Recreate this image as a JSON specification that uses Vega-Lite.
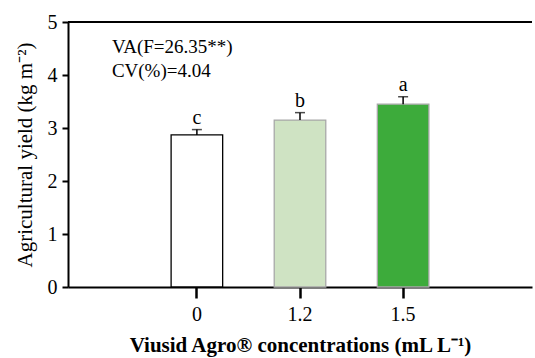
{
  "$schema": "https://vega.github.io/schema/vega-lite/v6.json",
  "width": 464,
  "height": 265,
  "autosize": "none",
  "padding": {"left": 68, "top": 22, "right": 3, "bottom": 71},
  "background": "white",
  "config": {
    "view": {"stroke": null},
    "font": "Liberation Serif",
    "text": {"font": "Liberation Serif"},
    "axis": {"labelFont": "Liberation Serif", "titleFont": "Liberation Serif", "domainColor": "black", "tickColor": "black", "labelColor": "black", "titleColor": "black"}
  },
  "datasets": {
    "bars": [
      {"conc": "0", "yield": 2.87, "se": 0.1, "letter": "c"},
      {"conc": "1.2", "yield": 3.15, "se": 0.14, "letter": "b"},
      {"conc": "1.5", "yield": 3.45, "se": 0.14, "letter": "a"}
    ],
    "notes": [
      {"conc": "0", "y": 4.53, "label": "VA(F=26.35**)"},
      {"conc": "0", "y": 4.08, "label": "CV(%)=4.04"}
    ]
  },
  "data": {"name": "bars"},
  "encoding": {
    "x": {
      "field": "conc", "type": "nominal", "sort": ["0", "1.2", "1.5"],
      "scale": {"paddingInner": 0.5, "paddingOuter": 1.0},
      "axis": {
        "title": "Viusid Agro® concentrations (mL L⁻¹)",
        "titleFont": "Liberation Serif",
        "titleFontSize": 21, "titleFontWeight": "bold", "titlePadding": 10,
        "labelFont": "Liberation Serif",
        "labelAngle": 0, "labelAlign": "center", "labelFontSize": 20, "labelPadding": 6,
        "domainWidth": 2, "ticks": true, "tickColor": "black", "tickWidth": 2.5, "tickSize": 11
      }
    }
  },
  "layer": [
    {
      "mark": {"type": "bar", "strokeWidth": 1.3},
      "encoding": {
        "y": {
          "field": "yield", "type": "quantitative",
          "scale": {"domain": [0, 5], "nice": false},
          "axis": {
            "title": "Agricultural yield (kg m⁻²)",
            "titleFont": "Liberation Serif",
            "titleFontSize": 21, "titleFontWeight": "normal", "titlePadding": 12,
            "values": [0, 0.5, 1, 1.5, 2, 2.5, 3, 3.5, 4, 4.5, 5],
            "labelExpr": "datum.value % 1 === 0 ? datum.label : ''",
            "labelFont": "Liberation Serif",
            "labelFontSize": 20, "labelPadding": 5,
            "domainWidth": 2, "tickWidth": 2, "tickSize": 6, "grid": false
          }
        },
        "fill": {
          "field": "conc", "type": "nominal",
          "scale": {"domain": ["0", "1.2", "1.5"], "range": ["#ffffff", "#cfe3c3", "#3dab3b"]},
          "legend": null
        },
        "stroke": {
          "field": "conc", "type": "nominal",
          "scale": {"domain": ["0", "1.2", "1.5"], "range": ["#000000", "#a8a8a8", "#a8a8a8"]},
          "legend": null
        }
      }
    },
    {
      "transform": [{"calculate": "datum.yield + datum.se", "as": "upper"}],
      "mark": {"type": "rule", "color": "black", "strokeWidth": 1.5},
      "encoding": {
        "y": {"field": "yield", "type": "quantitative"},
        "y2": {"field": "upper"}
      }
    },
    {
      "transform": [{"calculate": "datum.yield + datum.se", "as": "upper"}],
      "mark": {"type": "tick", "color": "black", "thickness": 1.5, "size": 10, "orient": "horizontal"},
      "encoding": {
        "y": {"field": "upper", "type": "quantitative"}
      }
    },
    {
      "transform": [{"calculate": "datum.yield + datum.se", "as": "upper"}],
      "mark": {"type": "text", "baseline": "alphabetic", "dy": -6, "fontSize": 20, "font": "Liberation Serif", "color": "black"},
      "encoding": {
        "y": {"field": "upper", "type": "quantitative"},
        "text": {"field": "letter"}
      }
    },
    {
      "data": {"name": "notes"},
      "mark": {"type": "text", "align": "left", "baseline": "middle", "dx": -85, "fontSize": 19, "font": "Liberation Serif", "color": "black"},
      "encoding": {
        "y": {"field": "y", "type": "quantitative"},
        "text": {"field": "label"}
      }
    },
    {
      "mark": {"type": "rule", "color": "black", "strokeWidth": 2},
      "encoding": {"x": null, "y": {"datum": 5}}
    }
  ]
}
